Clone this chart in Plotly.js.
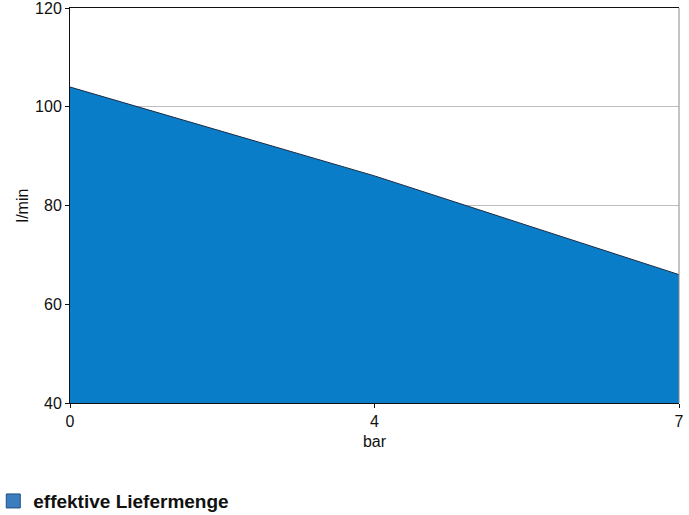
<!DOCTYPE html>
<html>
<head>
<meta charset="utf-8">
<script src="https://cdn.plot.ly/plotly-3.0.1.min.js"></script>
<style>html,body{margin:0;padding:0;background:#fff;}#chart{width:689px;height:515px;}</style>
</head>
<body>
<div id="chart"></div>
<script>
const pressureBar = ['0', '4', '7'];
const flowLmin = [104, 86, 66];
const seriesName = 'effektive Liefermenge';
const yTicks = [40, 60, 80, 100, 120];

const fillColor = '#0a7dc8';
const font = 'Liberation Sans, Arial, sans-serif';

const traces = [
  {
    type: 'scatter', mode: 'lines',
    x: pressureBar, y: flowLmin,
    fill: 'tozeroy', fillcolor: fillColor,
    line: {color: '#1b2b45', width: 1},
    showlegend: false, hoverinfo: 'x+y'
  },
  {
    type: 'scatter', mode: 'markers',
    x: [null], y: [null],
    name: seriesName,
    marker: {symbol: 'square', size: 14, color: '#3c7dbf', line: {color: '#1f4f80', width: 1}},
    showlegend: true
  }
];

const layout = {
  width: 689, height: 515,
  margin: {l: 70, r: 10, t: 8, b: 112, pad: 0, autoexpand: false},
  paper_bgcolor: '#ffffff', plot_bgcolor: '#ffffff',
  font: {family: font, size: 16, color: '#111'},
  showlegend: true,
  legend: {
    orientation: 'h', xref: 'paper', yref: 'container',
    x: -0.126, xanchor: 'left', y: 0.027, yanchor: 'middle',
    font: {family: font, size: 19, color: '#111', weight: 'bold'},
    itemwidth: 30, bgcolor: 'rgba(0,0,0,0)'
  },
  xaxis: {
    type: 'category', range: [0, 2],
    showgrid: false, zeroline: false, automargin: false,
    showline: true, linecolor: '#111', linewidth: 1, mirror: true,
    ticks: 'outside', ticklen: 4, tickcolor: '#111',
    ticklabeloverflow: 'allow',
    tickfont: {family: font, size: 16, color: '#111'},
    title: {text: 'bar', font: {family: font, size: 16, color: '#111'}, standoff: 6}
  },
  yaxis: {
    range: [40, 120], tickvals: yTicks,
    showgrid: true, gridcolor: '#bdbdbd', gridwidth: 1, zeroline: false, automargin: false,
    showline: true, linecolor: '#111', linewidth: 1,
    ticks: 'outside', ticklen: 4, tickcolor: '#111',
    ticklabeloverflow: 'allow',
    tickfont: {family: font, size: 16, color: '#111'},
    title: {text: 'l/min', font: {family: font, size: 16, color: '#111'}, standoff: 2}
  },
  shapes: [
    {type: 'line', xref: 'paper', yref: 'paper', x0: 1, x1: 1, y0: 0, y1: 1,
     line: {color: '#8a8a8a', width: 1}}
  ]
};

Plotly.newPlot('chart', traces, layout, {displayModeBar: false, staticPlot: true});
</script>
</body>
</html>
